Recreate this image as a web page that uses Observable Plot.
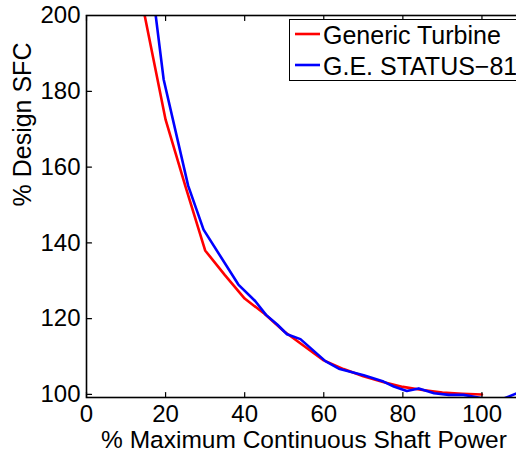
<!DOCTYPE html>
<html><head><meta charset="utf-8">
<script src="https://cdn.jsdelivr.net/npm/d3@7"></script>
<script src="https://cdn.jsdelivr.net/npm/@observablehq/plot@0.6"></script>
<style>
html,body{margin:0;padding:0;background:#fff;overflow:hidden}
#wrap{position:relative;width:516px;height:452px;overflow:hidden;background:#fff}
#legend{position:absolute;left:289px;top:19px;width:240px;height:62px;border:1px solid #000;background:#fff;box-sizing:border-box}
</style></head><body><div id="wrap"><div id="legend"></div></div>
<script>
const seriesNames = ["Generic Turbine", "G.E. STATUS\u221281"];
const seriesColors = ["#ff0000", "#0000ff"];

const genericPower = [10, 20, 25, 30, 35, 40, 45, 50, 55, 60, 65, 70, 75, 80, 85, 90, 95, 100];
const genericSFC   = [224.5, 172.5, 155, 138, 131.5, 125.3, 121.3, 116.6, 112.8, 109.0, 106.7, 104.8, 103.3, 102.0, 101.2, 100.5, 100.2, 100.0];

const statusPower = [15, 19.5, 25.7, 29.6, 38.4, 42.7, 45.4, 48.3, 50.7, 54.1, 60.4, 63.8, 70.1, 75.1, 77.7, 81.0, 84.0, 87.9, 91.6, 95.3, 99.1, 104, 110];
const statusSFC   = [221, 183.2, 155.1, 143.5, 129.0, 124.6, 121.0, 118.4, 115.9, 114.6, 108.8, 106.8, 105.1, 103.4, 102.1, 100.9, 101.6, 100.3, 99.9, 99.9, 99.2, 98.3, 100.8];

const xTicks = [0, 20, 40, 60, 80, 100];
const yTicks = [100, 120, 140, 160, 180, 200];
const xLabel = "% Maximum Continuous Shaft Power";
const yLabel = "% Design SFC";

const rows = [
  ...genericPower.map((x, i) => ({series: seriesNames[0], x, y: genericSFC[i]})),
  ...statusPower.map((x, i) => ({series: seriesNames[1], x, y: statusSFC[i]}))
];

const font = "'Liberation Sans', Arial, Helvetica, sans-serif";
const tickShape = {draw(ctx, l) { ctx.moveTo(0, 0); ctx.lineTo(0, -l); }};

const chart = Plot.plot({
  width: 516, height: 452,
  marginLeft: 86, marginRight: -5, marginTop: 15, marginBottom: 55,
  style: {fontFamily: font, fontSize: "25px", color: "#000", background: "#fff"},
  x: {domain: [0, 110]},
  y: {domain: [99.2, 200]},
  color: {domain: seriesNames, range: seriesColors},
  marks: [
    Plot.line(rows, {x: "x", y: "y", z: "series", stroke: "series", strokeWidth: 2.6, clip: true}),
    Plot.frame({stroke: "#000", strokeWidth: 1.6}),
    Plot.vector(xTicks, {x: d => d, frameAnchor: "bottom", length: 5, rotate: 0, anchor: "start", shape: tickShape, stroke: "#000", strokeWidth: 1.2}),
    Plot.vector(xTicks, {x: d => d, frameAnchor: "top", length: 5, rotate: 180, anchor: "start", shape: tickShape, stroke: "#000", strokeWidth: 1.2}),
    Plot.vector(yTicks, {y: d => d, frameAnchor: "left", length: 5, rotate: 90, anchor: "start", shape: tickShape, stroke: "#000", strokeWidth: 1.2}),
    Plot.axisX({ticks: xTicks, anchor: "bottom", tickSize: 0, tickPadding: 7, label: null, fontSize: 24}),
    Plot.axisY({ticks: yTicks, anchor: "left", tickSize: 0, tickPadding: 6, label: null, fontSize: 24}),
    Plot.text([xLabel], {text: d => d, frameAnchor: "bottom", dy: 50, lineAnchor: "bottom", fontSize: 24.5, fill: "#000"}),
    Plot.text([yLabel], {text: d => d, frameAnchor: "left", dx: -56, rotate: -90, lineAnchor: "bottom", fontSize: 25, fill: "#000"})
  ]
});
document.getElementById("wrap").insertBefore(chart, document.getElementById("legend"));

// legend
const ns = "http://www.w3.org/2000/svg";
const lsvg = document.createElementNS(ns, "svg");
lsvg.setAttribute("width", 240); lsvg.setAttribute("height", 62);
lsvg.style.display = "block";
const rowY = [15, 46];
seriesNames.forEach((name, i) => {
  const ln = document.createElementNS(ns, "line");
  ln.setAttribute("x1", 5); ln.setAttribute("x2", 30);
  ln.setAttribute("y1", rowY[i] - 1); ln.setAttribute("y2", rowY[i] - 1);
  ln.setAttribute("stroke", seriesColors[i]); ln.setAttribute("stroke-width", 2.6);
  lsvg.appendChild(ln);
  const t = document.createElementNS(ns, "text");
  t.setAttribute("x", 33); t.setAttribute("y", rowY[i] + 9);
  t.setAttribute("font-family", font); t.setAttribute("font-size", 25);
  t.setAttribute("fill", "#000");
  t.textContent = name;
  lsvg.appendChild(t);
});
document.getElementById("legend").appendChild(lsvg);
</script>
</body></html>
